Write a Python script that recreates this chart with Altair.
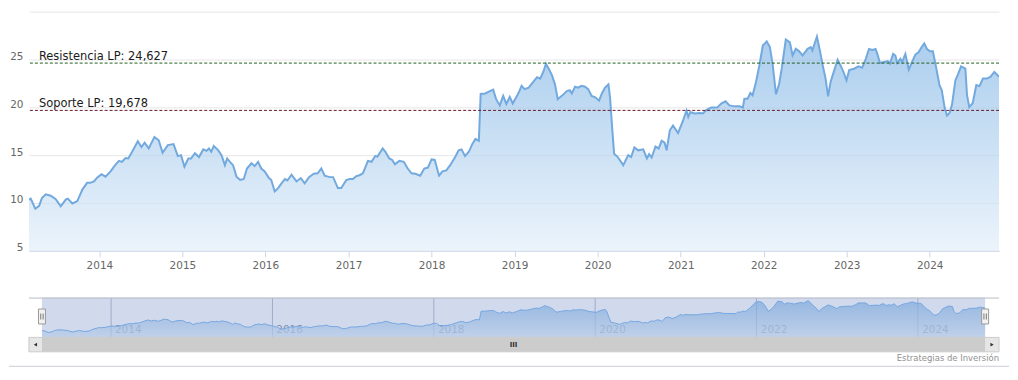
import altair as alt
import pandas as pd

# ---------------- data ----------------
dates = [
    "2013-02-25", "2013-03-05", "2013-03-25", "2013-04-11", "2013-04-23", "2013-05-10", "2013-06-01",
    "2013-06-23", "2013-07-15", "2013-08-06", "2013-08-15", "2013-09-04", "2013-09-26", "2013-10-18",
    "2013-11-08", "2013-11-22", "2013-12-08", "2013-12-22",
    "2014-01-10", "2014-01-28", "2014-02-19", "2014-03-13", "2014-03-28", "2014-04-10", "2014-04-26",
    "2014-05-08", "2014-05-25", "2014-06-19", "2014-07-05", "2014-07-19", "2014-08-06", "2014-08-31",
    "2014-09-19", "2014-10-06", "2014-10-29", "2014-11-23", "2014-12-12", "2014-12-26",
    "2015-01-10", "2015-01-27", "2015-02-08", "2015-02-25", "2015-03-15", "2015-04-03", "2015-04-17",
    "2015-04-28", "2015-05-08", "2015-05-19", "2015-06-08", "2015-06-22", "2015-07-07", "2015-07-17",
    "2015-07-29", "2015-08-12", "2015-08-27", "2015-09-12", "2015-09-28", "2015-10-12", "2015-11-01",
    "2015-11-15", "2015-11-30", "2015-12-14", "2015-12-29",
    "2016-01-17", "2016-01-27", "2016-02-11", "2016-02-26", "2016-03-12", "2016-03-27", "2016-04-07",
    "2016-04-25", "2016-05-17", "2016-06-05", "2016-06-22", "2016-07-11", "2016-08-01", "2016-08-18",
    "2016-09-03", "2016-09-18", "2016-10-10", "2016-10-25", "2016-11-15", "2016-11-30", "2016-12-22",
    "2017-01-06", "2017-01-20", "2017-02-04", "2017-02-18", "2017-03-05", "2017-03-27", "2017-04-12",
    "2017-04-28", "2017-05-08", "2017-05-31", "2017-06-12", "2017-06-29", "2017-07-12", "2017-07-24",
    "2017-08-12", "2017-09-01", "2017-09-18", "2017-10-05", "2017-10-22", "2017-11-12", "2017-11-30",
    "2017-12-16",
    "2018-01-01", "2018-01-15", "2018-02-03", "2018-02-18", "2018-03-07", "2018-03-24", "2018-04-16",
    "2018-04-30", "2018-05-13", "2018-05-28", "2018-06-14", "2018-06-29", "2018-07-13", "2018-07-28",
    "2018-08-05", "2018-08-25", "2018-09-10", "2018-09-29", "2018-10-12", "2018-10-28", "2018-11-12",
    "2018-11-26", "2018-12-11", "2018-12-24",
    "2019-01-12", "2019-01-22", "2019-02-01", "2019-02-14", "2019-03-04", "2019-03-27", "2019-04-10",
    "2019-04-24", "2019-05-09", "2019-05-19", "2019-06-02", "2019-06-14", "2019-06-28", "2019-07-10",
    "2019-07-28", "2019-08-19", "2019-09-01", "2019-09-10", "2019-09-24", "2019-10-08", "2019-10-22",
    "2019-11-07", "2019-11-21", "2019-12-06", "2019-12-22",
    "2020-01-08", "2020-01-20", "2020-02-03", "2020-02-18", "2020-02-25", "2020-03-05", "2020-03-14",
    "2020-03-30", "2020-04-23", "2020-05-15", "2020-05-28", "2020-06-11", "2020-06-28", "2020-07-20",
    "2020-08-05", "2020-08-15", "2020-08-26", "2020-09-12", "2020-09-26", "2020-10-09", "2020-10-22",
    "2020-10-31", "2020-11-14", "2020-11-28", "2020-12-20",
    "2021-01-11", "2021-01-26", "2021-02-03", "2021-02-12", "2021-03-03", "2021-03-26", "2021-04-08",
    "2021-04-23", "2021-05-15", "2021-06-10", "2021-06-28", "2021-07-17", "2021-08-03", "2021-08-25",
    "2021-09-17", "2021-10-01", "2021-10-08", "2021-10-22", "2021-11-03", "2021-11-13", "2021-11-28",
    "2021-12-13", "2021-12-28",
    "2022-01-14", "2022-01-28", "2022-02-09", "2022-02-24", "2022-03-10", "2022-03-22", "2022-04-08",
    "2022-04-26", "2022-05-08", "2022-05-22", "2022-06-05", "2022-06-21", "2022-07-13", "2022-07-27",
    "2022-08-03", "2022-08-23", "2022-09-05", "2022-09-16", "2022-09-30", "2022-10-11", "2022-10-22",
    "2022-11-07", "2022-11-22", "2022-12-05", "2022-12-18", "2022-12-31",
    "2023-01-12", "2023-02-02", "2023-02-22", "2023-03-10", "2023-03-26", "2023-04-09", "2023-04-24",
    "2023-05-08", "2023-05-18", "2023-05-27", "2023-06-14", "2023-07-01", "2023-07-10", "2023-07-24",
    "2023-08-03", "2023-08-11", "2023-08-25", "2023-09-02", "2023-09-16", "2023-10-01", "2023-10-15",
    "2023-10-30", "2023-11-13", "2023-11-28", "2023-12-08", "2023-12-20",
    "2024-01-03", "2024-01-15", "2024-01-29", "2024-02-13", "2024-02-23", "2024-03-07", "2024-03-17",
    "2024-03-28", "2024-04-08", "2024-04-23", "2024-05-03", "2024-05-18", "2024-06-06", "2024-06-13",
    "2024-06-23", "2024-07-08", "2024-07-24", "2024-08-07", "2024-08-22", "2024-09-08", "2024-09-24",
    "2024-10-11", "2024-10-21", "2024-11-01",
]
values = [
    10.35, 10.45, 9.4, 9.7, 10.5, 10.9, 10.75,
    10.4, 9.65, 10.35, 10.45, 9.95, 10.2, 11.4,
    12.1, 12.1, 12.25, 12.65,
    13.0, 12.75, 13.3, 14.0, 14.4, 14.3, 14.7,
    14.65, 15.35, 16.45, 15.85, 16.3, 15.7, 16.9,
    16.55, 15.25, 16.05, 16.15, 14.9, 15.0,
    13.8, 14.65, 14.65, 15.2, 14.8, 15.6, 15.45,
    15.7, 15.35, 15.95, 15.5, 15.0, 13.95, 14.65,
    14.3, 13.95, 12.75, 12.4, 12.5, 13.6, 14.15,
    13.85, 14.3, 13.6, 13.3,
    12.6, 12.4, 11.2, 11.55, 12.05, 12.5, 12.35,
    12.95, 12.25, 12.6, 12.05, 12.7, 13.05, 13.1,
    13.6, 12.85, 12.7, 12.7, 11.55, 11.55, 12.4,
    12.5, 12.5, 12.8, 12.9, 13.1, 14.4, 14.3,
    14.9, 14.85, 15.7, 15.35, 14.65, 14.5, 14.05,
    14.4, 14.3, 13.6, 13.1, 13.05, 12.85, 13.6,
    13.7,
    14.55, 14.5, 12.85, 13.3, 13.4, 13.95, 14.85,
    15.5, 15.6, 14.9, 15.35, 16.15, 16.7, 16.5,
    21.4, 21.45, 21.65, 21.85, 20.85, 20.2, 21.2,
    20.35, 21.1, 20.4,
    21.2, 21.7, 22.25, 21.9, 22.05, 22.75, 23.15,
    23.0, 23.8, 24.55, 23.95, 23.4, 22.4, 20.85,
    21.2, 21.7, 21.8, 21.45, 22.15, 22.05, 22.25,
    22.15, 21.9, 21.2, 21.05,
    20.7, 21.45, 22.05, 22.4, 21.05, 17.95, 15.15,
    14.8, 13.95, 15.0, 14.8, 15.8, 15.5, 15.6,
    14.65, 15.1, 14.75, 15.9, 15.7, 16.5, 16.3,
    15.5, 17.6, 18.1, 17.3,
    18.6, 19.65, 19.0, 19.5, 19.35, 19.4, 19.35,
    19.7, 19.97, 19.97, 20.4, 20.63, 20.2, 20.1,
    20.1, 19.97, 20.9, 20.9, 21.5, 21.26, 22.65,
    24.4, 26.47,
    26.9, 26.3, 24.55, 21.36, 22.47, 24.2, 27.09,
    26.8, 25.43, 26.12, 25.88, 25.43, 26.12, 26.3,
    25.95, 27.4, 25.95, 24.56, 23.0, 21.15, 22.65,
    23.86, 24.97, 24.38, 23.69, 22.82,
    23.9, 24.04, 24.28, 24.15, 25.07, 26.1, 26.0,
    26.1, 25.42, 24.63, 24.73, 24.83, 24.56, 25.59,
    25.42, 24.63, 25.07, 24.73, 25.59, 23.94, 24.73,
    25.52, 25.76, 26.35, 26.69, 26.1,
    25.86, 25.86, 24.2, 22.32, 21.81, 19.92, 19.13,
    19.4, 20.26, 22.84, 23.36, 24.28, 24.04, 21.29,
    20.02, 20.43, 22.32, 22.22, 23.01, 23.01, 23.18,
    23.7, 23.46, 23.18,
]

levels = [24.627, 19.678]
level_labels = ["Resistencia LP: 24,627", "Soporte LP: 19,678"]
level_colors = ["#1e5e1e", "#651a28"]

y_ticks = [5, 10, 15, 20, 25, 30]
main_years = ["2014-01-01", "2015-01-01", "2016-01-01", "2017-01-01", "2018-01-01", "2019-01-01",
              "2020-01-01", "2021-01-01", "2022-01-01", "2023-01-01", "2024-01-01"]
nav_years = ["2014-01-01", "2016-01-01", "2018-01-01", "2020-01-01", "2022-01-01", "2024-01-01"]
nav_domain = ["2012-12-28", "2025-01-03"]
credit = "Estrategias de Inversión"

# ---------------- helpers ----------------
FONT = "DejaVu Sans"


def dt(s):
    y, m, d = (int(p) for p in s.split("-"))
    return alt.DateTime(year=y, month=m, date=d)


df = pd.DataFrame({"date": pd.to_datetime(dates), "value": values})
x_start, x_end = dates[0], dates[-1]

MAIN_W, MAIN_H = 974, 240
NAV_H = 40

grad_main = alt.Gradient(
    gradient="linear",
    stops=[alt.GradientStop(color="#86b8e6", offset=0), alt.GradientStop(color="#f8fbfe", offset=1)],
    x1=1, x2=1, y1=0, y2=1,
)

x_main = alt.X(
    "date:T",
    scale=alt.Scale(domain=[dt(x_start), dt(x_end)], nice=False),
    axis=alt.Axis(values=[dt(s) for s in main_years], format="%Y", title=None, grid=False,
                  tickSize=6, tickColor="#ccd6eb", domainColor="#ccd6eb", labelColor="#666666",
                  labelFontSize=10.5, labelFont=FONT, labelPadding=4),
)
y_main = alt.Y(
    "value:Q",
    scale=alt.Scale(domain=[5, 30], nice=False, zero=False),
    axis=alt.Axis(values=y_ticks, title=None, grid=True, gridColor="#e6e6e6", ticks=False, domain=False,
                  labelExpr="datum.value == 30 ? '' : datum.label", labelBaseline="alphabetic",
                  labelColor="#666666", labelFontSize=10.5, labelFont=FONT, labelPadding=6),
)

area = alt.Chart(df).mark_area(
    color=grad_main, line={"color": "#72a9de", "strokeWidth": 2}, clip=True
).encode(x=x_main, y=y_main)

lv = pd.DataFrame({"level": levels, "label": level_labels, "color": level_colors})
rules = alt.Chart(lv).mark_rule(strokeDash=[3, 2], strokeWidth=1).encode(
    y=alt.Y("level:Q"), color=alt.Color("color:N", scale=None)
)
texts = alt.Chart(lv).mark_text(
    align="left", baseline="alphabetic", dy=-3, fontSize=11.5, font=FONT, color="#1a1a1a"
).encode(x=alt.value(10), y=alt.Y("level:Q"), text="label:N")

main = alt.layer(area, rules, texts).properties(width=MAIN_W, height=MAIN_H)

# ---------------- navigator ----------------
x_nav = alt.X(
    "date:T",
    scale=alt.Scale(domain=[dt(nav_domain[0]), dt(nav_domain[1])], nice=False),
    axis=alt.Axis(values=[dt(s) for s in nav_years], format="%Y", title=None, grid=True,
                  gridColor="#b4bccb", ticks=False, domain=False, labelAlign="left",
                  labelBaseline="alphabetic", labelPadding=-5, labelOffset=4,
                  labelColor="#8a94a8", labelFontSize=10.5, labelFont=FONT),
)
y_nav = alt.Y("value:Q", scale=alt.Scale(domain=[6.6, 29.1], nice=False, zero=False), axis=None)

nav_area = alt.Chart(df).mark_area(
    color=grad_main, line={"color": "#7cb5ec", "strokeWidth": 1}, clip=True
).encode(x=x_nav, y=y_nav)

sel = pd.DataFrame({"s": pd.to_datetime([x_start]), "e": pd.to_datetime([x_end])})
full = pd.DataFrame({"s": pd.to_datetime([nav_domain[0]]), "e": pd.to_datetime([nav_domain[1]])})
mask = alt.Chart(sel).mark_rect(color="#6685c2", opacity=0.3).encode(
    x=alt.X("s:T", scale=alt.Scale(domain=[dt(nav_domain[0]), dt(nav_domain[1])], nice=False)),
    x2="e:T", y=alt.value(0), y2=alt.value(NAV_H),
)
outline = alt.Chart(full).mark_rule(color="#b9bcc6", strokeWidth=1).encode(
    x="s:T", x2="e:T", y=alt.value(0.5)
)

handles_df = pd.DataFrame({"h": pd.to_datetime([x_start, x_end])})
handles = alt.Chart(handles_df).mark_tick(
    orient="vertical", size=15, thickness=7, color="#f2f2f2", stroke="#999999", strokeWidth=1, opacity=1
).encode(x="h:T", y=alt.value(19))
grip1 = alt.Chart(handles_df).mark_tick(orient="vertical", size=6, thickness=1, color="#444444",
                                        xOffset=-1.2).encode(x="h:T", y=alt.value(19))
grip2 = alt.Chart(handles_df).mark_tick(orient="vertical", size=6, thickness=1, color="#444444",
                                        xOffset=1.2).encode(x="h:T", y=alt.value(19))

track = alt.Chart(full).mark_rect(color="#e6e6e6", stroke="#cccccc", strokeWidth=1).encode(
    x="s:T", x2="e:T", y=alt.value(NAV_H), y2=alt.value(NAV_H + 14.5)
)
thumb = alt.Chart(sel).mark_rect(color="#cccccc").encode(
    x="s:T", x2="e:T", y=alt.value(NAV_H), y2=alt.value(NAV_H + 14.5)
)
ds, de = pd.Timestamp(x_start), pd.Timestamp(x_end)
fs, fe = pd.Timestamp(nav_domain[0]), pd.Timestamp(nav_domain[1])
arrows_df = pd.DataFrame({"d": [fs + (ds - fs) / 2, de + (fe - de) / 2],
                          "shape": ["triangle-left", "triangle-right"]})
arrows = alt.Chart(arrows_df).mark_point(filled=True, size=14, color="#333333", opacity=1).encode(
    x="d:T", y=alt.value(NAV_H + 7.3), shape=alt.Shape("shape:N", scale=None)
)
mid_df = pd.DataFrame({"d": [ds + (de - ds) / 2]})
grip = alt.Chart(mid_df).mark_text(text="III", fontSize=7, font=FONT, fontWeight="bold",
                                   color="#333333", baseline="middle").encode(
    x="d:T", y=alt.value(NAV_H + 7.5)
)

credit_txt = alt.Chart(mid_df).mark_text(
    text=credit, align="right", baseline="alphabetic", fontSize=8.5, font=FONT, color="#909090"
).encode(x=alt.value(MAIN_W), y=alt.value(NAV_H + 23.5))
bottom_line = alt.Chart(mid_df).mark_rule(color="#ccccd6", strokeWidth=1).encode(
    x=alt.value(-20), x2=alt.value(MAIN_W + 10), y=alt.value(NAV_H + 29)
)

nav = alt.layer(
    nav_area, mask, outline, track, thumb, arrows, grip, handles, grip1, grip2, credit_txt, bottom_line
).properties(width=MAIN_W, height=NAV_H)

chart = (
    alt.vconcat(main, nav, spacing=26)
    .properties(padding={"left": 0, "top": 3, "right": 0, "bottom": 0}, background="white")
    .configure_view(stroke=None)
)

chart.save("out.html", embed_options={"renderer": "svg", "actions": False})
